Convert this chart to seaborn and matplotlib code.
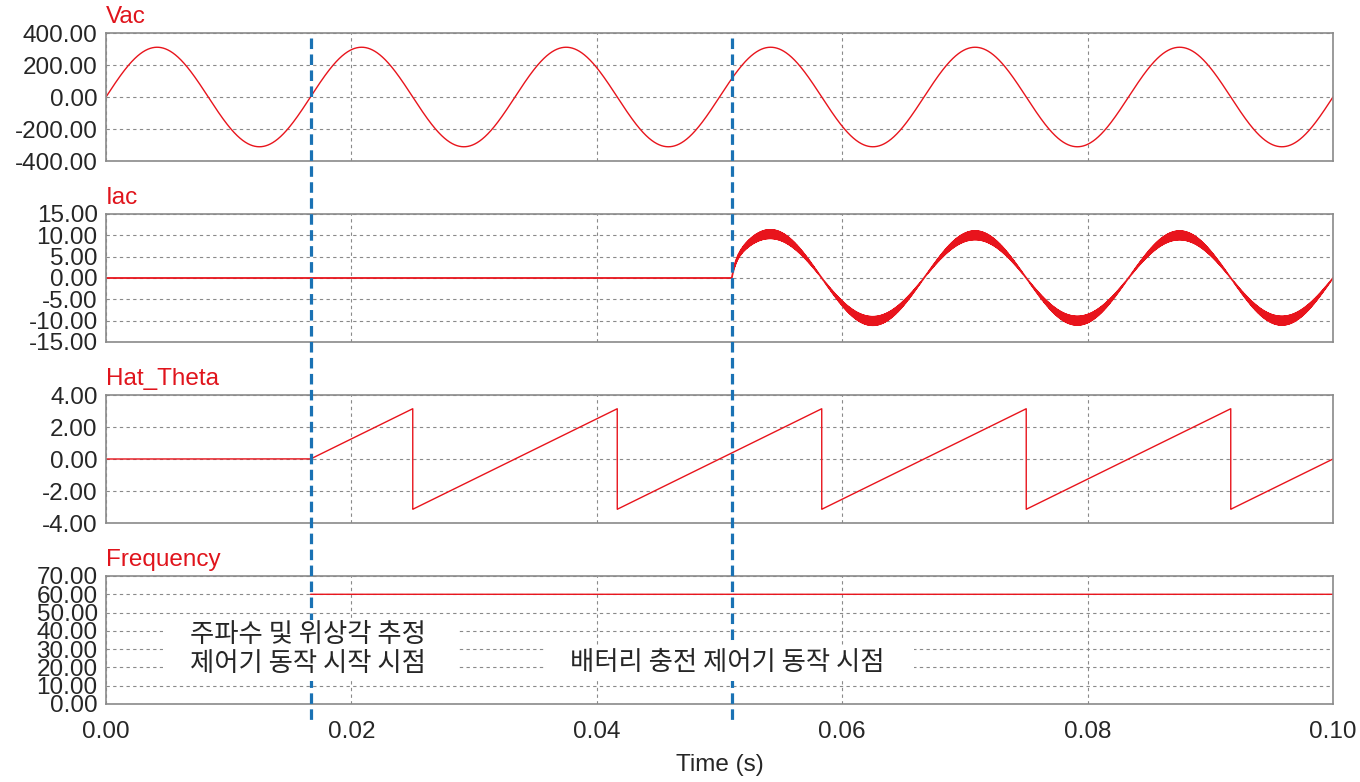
import numpy as np
import pandas as pd
import matplotlib
matplotlib.use("Agg")
import matplotlib.pyplot as plt
import matplotlib.transforms as mtransforms
from matplotlib.lines import Line2D
from matplotlib.patches import Rectangle
import seaborn as sns

# ---------------- data ----------------
T_END = 0.10          # s
DT = 2e-6             # s, simulation step
F_GRID = 60.0         # Hz
V_PEAK = 311.0        # V
I_PEAK = 10.0         # A
I_RIPPLE = 1.0        # A, switching ripple band half-width at peak
F_SW = 20000.0        # Hz, switching ripple frequency
T_PLL_START = 1 / 60  # s, PLL / frequency estimator enabled
T_CHG_START = 0.051   # s, battery charging controller enabled
FREQ_EST = 60.0       # Hz, estimated frequency

titles = ["Vac", "Iac", "Hat_Theta", "Frequency"]
y_limits = [(-400, 400), (-15, 15), (-4, 4), (0, 70)]
y_steps = [200, 5, 2, 10]
x_ticks = [0.00, 0.02, 0.04, 0.06, 0.08, 0.10]
x_tick_labels = ["0.00", "0.02", "0.04", "0.06", "0.08", "0.10"]
x_label = "Time (s)"
note_pll = "주파수 및 위상각 추정\n제어기 동작 시작 시점"
note_chg = "배터리 충전 제어기 동작 시점"

# ---------------- waveforms ----------------
t = np.arange(0, T_END + DT / 2, DT)
w = 2 * np.pi * F_GRID
vac = V_PEAK * np.sin(w * t)

iac = np.zeros_like(t)
on = t >= T_CHG_START
tr = t[on] - T_CHG_START
ramp = 1 - np.exp(-tr / 2.5e-4)
over = 1 + 0.05 * np.exp(-tr / 0.006)
s = np.sin(w * t[on])
ripple = I_RIPPLE * np.abs(s) ** 1.3 * np.sin(2 * np.pi * F_SW * t[on]) * ramp
iac[on] = I_PEAK * s * ramp * over + ripple

theta = np.zeros_like(t)
pll = t >= T_PLL_START
theta[pll] = np.mod(w * (t[pll] - T_PLL_START) + np.pi, 2 * np.pi) - np.pi

t_freq = t[pll]
freq = np.full_like(t_freq, FREQ_EST)

frames = [
    pd.DataFrame({"t": t, "v": vac}),
    pd.DataFrame({"t": t, "v": iac}),
    pd.DataFrame({"t": t, "v": theta}),
    pd.DataFrame({"t": t_freq, "v": freq}),
]

# ---------------- style ----------------
sns.set_style("white")
plt.rcParams["font.family"] = ["Liberation Sans", "Noto Sans CJK KR", "DejaVu Sans"]

RED = "#e8141c"
TITLE_RED = "#e0141c"
GRID = "#8a8a8a"
SPINE = "#8a8a8a"
BLUE = "#1a72b4"
FS = 17.5

fig = plt.figure(figsize=(13.6, 7.82), dpi=100)
W, H = 1360.0, 782.0
left_px, right_px = 106, 1333
tops_px = [33, 214, 395, 576]
h_px = 128

axes = []
for i, top in enumerate(tops_px):
    ax = fig.add_axes([left_px / W, 1 - (top + h_px) / H, (right_px - left_px) / W, h_px / H])
    axes.append(ax)
    lw = 1.3 if i == 1 else 1.0
    sns.lineplot(data=frames[i], x="t", y="v", ax=ax, estimator=None, errorbar=None,
                 color=RED, linewidth=lw, sort=False)
    lo, hi = y_limits[i]
    ax.set_xlim(0, T_END)
    ax.set_ylim(lo, hi)
    yt = np.arange(lo, hi + y_steps[i] / 2, y_steps[i])
    ax.set_yticks(yt)
    ax.set_yticklabels([f"{v:.2f}" for v in yt])
    ax.set_xticks(x_ticks)
    if i == 3:
        ax.set_xticklabels(x_tick_labels)
    else:
        ax.set_xticklabels([])
    ax.set_xlabel("")
    ax.set_ylabel("")
    ax.grid(True, color=GRID, linestyle=(0, (3, 3)), linewidth=0.8)
    ax.tick_params(length=0, labelsize=FS)
    ax.tick_params(axis="y", pad=6)
    ax.tick_params(axis="x", pad=12)
    for sp in ax.spines.values():
        sp.set_color(SPINE)
        sp.set_linewidth(1.2)
    ax.annotate(titles[i], xy=(0, 1), xycoords="axes fraction", xytext=(0, 7.5),
                textcoords="offset points", ha="left", va="baseline",
                fontsize=17.5, color=TITLE_RED)

fig.text((left_px + right_px) / 2 / W, 1 - 765 / H, x_label, ha="center", va="center", fontsize=FS)

# event markers spanning all panels
btr = mtransforms.blended_transform_factory(axes[-1].transData, fig.transFigure)
for te in [T_PLL_START, T_CHG_START]:
    fig.add_artist(Line2D([te, te], [1 - 38 / H, 1 - 720 / H], transform=btr, color=BLUE,
                          linewidth=2.3, linestyle=(0, (3.3, 1.7)), zorder=2.5))

# annotation boxes (white backgrounds hide grid and markers)
fig.add_artist(Rectangle((163 / W, 1 - 681 / H), 294 / W, 61 / H, transform=fig.transFigure,
                         facecolor="white", edgecolor="none", zorder=3))
fig.add_artist(Rectangle((545 / W, 1 - 681 / H), 369 / W, 36 / H, transform=fig.transFigure,
                         facecolor="white", edgecolor="none", zorder=3))
fig.text(190 / W, 1 - 649 / H, note_pll, ha="left", va="center", fontsize=19,
         family=["Noto Sans CJK KR", "DejaVu Sans"], linespacing=1.05, zorder=4)
fig.text(570 / W, 1 - 663 / H, note_chg, ha="left", va="center", fontsize=19,
         family=["Noto Sans CJK KR", "DejaVu Sans"], zorder=4)

fig.savefig("out.png", dpi=100)
